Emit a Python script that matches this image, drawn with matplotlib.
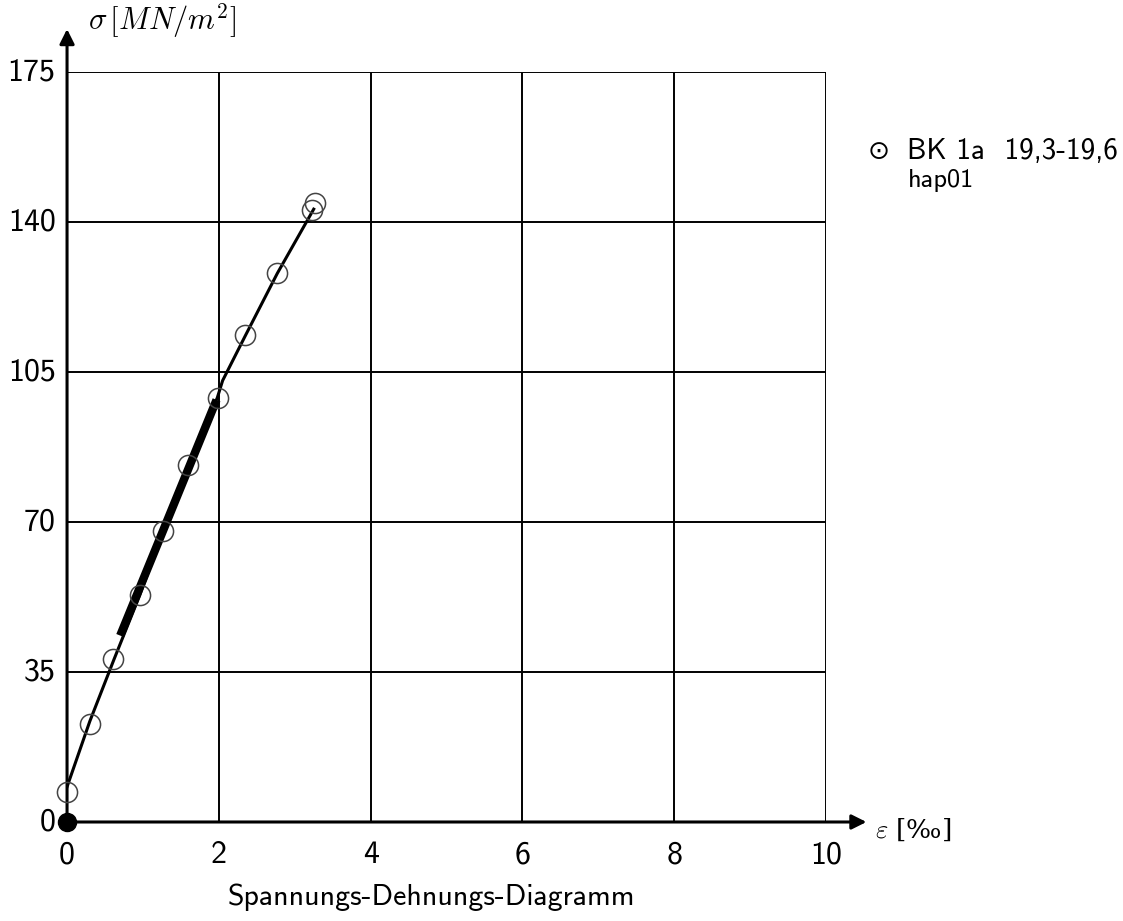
import matplotlib
matplotlib.use("Agg")
from matplotlib import pyplot as plt

plt.rcParams['font.family'] = ['cmss10', 'DejaVu Sans']
plt.rcParams['mathtext.fontset'] = 'cm'
plt.rcParams['axes.unicode_minus'] = False

# Messpunkte (Kreise)
dehnung_pkt = [0.0, 0.30, 0.61, 0.96, 1.26, 1.59, 1.99, 2.35, 2.77, 3.23, 3.27]
spannung_pkt = [7.0, 22.9, 38.0, 53.0, 67.9, 83.3, 98.9, 113.6, 128.0, 142.8, 144.4]

# Messkurve
dehnung_kurve = [0.0, 0.30, 0.62, 0.96, 1.27, 1.60, 1.98, 2.05, 2.35, 2.77, 3.25]
spannung_kurve = [8.2, 23.5, 38.0, 53.0, 68.0, 83.5, 99.0, 103.0, 113.5, 128.0, 143.0]

# dicker Abschnitt (Sekante)
dehnung_dick = [0.70, 1.97]
spannung_dick = [43.5, 98.5]

x_ticks = [0, 2, 4, 6, 8, 10]
y_ticks = [0, 35, 70, 105, 140, 175]

fig = plt.figure(figsize=(11.23, 9.21), dpi=100)
ax = fig.add_axes([0.0597, 0.1075, 0.6758, 0.8143])

ax.set_xlim(0, 10)
ax.set_ylim(0, 175)

# Gitter
for xv in x_ticks[1:]:
    ax.axvline(xv, color='black', lw=1.4, zorder=1)
for yv in y_ticks[1:]:
    ax.axhline(yv, color='black', lw=1.4, zorder=1)

for s in ax.spines.values():
    s.set_visible(False)
ax.set_xticks([])
ax.set_yticks([])

# Achsen mit Pfeilen
ax.annotate('', xy=(1.057, 0), xytext=(0, 0), xycoords='axes fraction',
            arrowprops=dict(arrowstyle='-|>', color='black', lw=2.2, mutation_scale=22),
            annotation_clip=False)
ax.annotate('', xy=(0, 1.061), xytext=(0, 0), xycoords='axes fraction',
            arrowprops=dict(arrowstyle='-|>', color='black', lw=2.2, mutation_scale=22),
            annotation_clip=False)

# Tick-Beschriftungen
for xv in x_ticks:
    ax.text(xv, -4.3, str(xv), ha='center', va='top', fontsize=23, clip_on=False)
for yv in y_ticks:
    ax.text(-0.15, yv, str(yv), ha='right', va='center', fontsize=23, clip_on=False)

ax.text(0.027, 1.069, r'$\sigma\,[MN/m^2]$', transform=ax.transAxes,
        fontsize=22, ha='left', va='center', clip_on=False)
ax.text(1.065, -0.01, r'$\varepsilon$ [‰]', transform=ax.transAxes,
        fontsize=19, ha='left', va='center', family=['DejaVu Serif'], clip_on=False)
ax.text(0.48, -0.1, 'Spannungs-Dehnungs-Diagramm', transform=ax.transAxes,
        fontsize=21.5, ha='center', va='center', clip_on=False)

# Kurve und Punkte
ax.plot(dehnung_kurve, spannung_kurve, color='black', lw=2.2, zorder=3)
ax.plot(dehnung_dick, spannung_dick, color='black', lw=6, solid_capstyle='butt', zorder=4)
ax.plot(dehnung_pkt, spannung_pkt, 'o', mfc='none', mec='#444444', mew=1.1, ms=14.5,
        zorder=5, clip_on=False)
ax.plot([0], [0], 'o', color='black', ms=13, zorder=6, clip_on=False)

# Legende
fig.text(0.773, 0.835, '⊙', fontsize=19, ha='left', va='center', family=['DejaVu Sans'])
fig.text(0.808, 0.835, 'BK 1a  19,3-19,6', fontsize=21, ha='left', va='center')
fig.text(0.808, 0.804, 'hap01', fontsize=19, ha='left', va='center')

fig.savefig('out.png', dpi=100)
